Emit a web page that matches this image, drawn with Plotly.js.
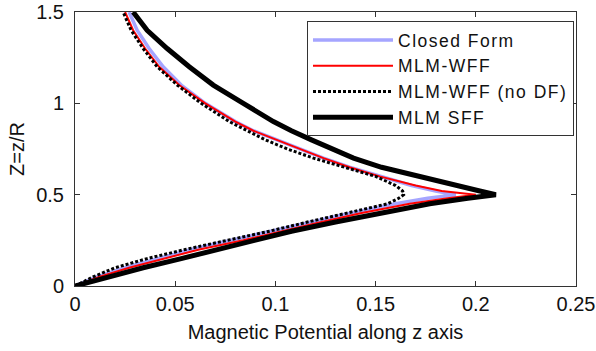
<!DOCTYPE html>
<html>
<head>
<meta charset="utf-8">
<script src="https://cdn.plot.ly/plotly-3.0.1.min.js"></script>
<style>
  html, body { margin: 0; padding: 0; background: #fff; }
  #chart { width: 596px; height: 351px; }
  .legendtext { letter-spacing: 1.5px; }
</style>
</head>
<body>
<div id="chart"></div>
<script>
// Z = z/R sample points (lower branch up to 0.5, then upper branch to 1.5)
const zValues = [0, 0.05, 0.1, 0.15, 0.2, 0.25, 0.3, 0.35, 0.4, 0.45, 0.48, 0.5,
                 0.52, 0.55, 0.6, 0.65, 0.7, 0.75, 0.8, 0.85, 0.9, 1.0, 1.1, 1.2, 1.3, 1.4, 1.5];

const closedForm = [0, 0.011, 0.025, 0.041, 0.058, 0.078, 0.098, 0.118, 0.138, 0.160, 0.176, 0.190,
                    0.180, 0.168, 0.152, 0.137, 0.124, 0.112, 0.100, 0.089, 0.080, 0.065, 0.053, 0.044, 0.037, 0.031, 0.027];

const mlmWff = [0, 0.012, 0.027, 0.044, 0.062, 0.084, 0.103, 0.123, 0.143, 0.167, 0.186, 0.200,
                0.183, 0.170, 0.152, 0.137, 0.124, 0.112, 0.100, 0.089, 0.080, 0.065, 0.052, 0.042, 0.035, 0.029, 0.025];

const mlmWffNoDF = [0, 0.009, 0.020, 0.036, 0.055, 0.076, 0.097, 0.116, 0.136, 0.156, 0.1615, 0.164,
                    0.1635, 0.160, 0.150, 0.134, 0.119, 0.106, 0.095, 0.086, 0.077, 0.063, 0.051, 0.041, 0.034, 0.028, 0.024];

const mlmSff = [0, 0.016, 0.034, 0.053, 0.071, 0.089, 0.108, 0.130, 0.153, 0.177, 0.196, 0.210,
                0.202, 0.191, 0.171, 0.153, 0.139, 0.128, 0.118, 0.108, 0.099, 0.084, 0.069, 0.057, 0.046, 0.036, 0.029];

const seriesNames = ['Closed Form', 'MLM-WFF', 'MLM-WFF (no DF)', 'MLM SFF'];
const xTicks = [0, 0.05, 0.1, 0.15, 0.2, 0.25];
const xTickText = ['0', '0.05', '0.1', '0.15', '0.2', '0.25'];
const yTicks = [0, 0.5, 1, 1.5];
const yTickText = ['0', '0.5', '1', '1.5'];

const FONT = 'Liberation Sans, Arial, Helvetica, sans-serif';

const traces = [
  { x: closedForm, y: zValues, name: seriesNames[0], mode: 'lines',
    line: { color: 'rgb(165,165,255)', width: 3.5 } },
  { x: mlmWff, y: zValues, name: seriesNames[1], mode: 'lines',
    line: { color: 'rgb(255,0,0)', width: 2 } },
  { x: mlmWffNoDF, y: zValues, name: seriesNames[2], mode: 'lines',
    line: { color: 'black', width: 3, dash: '3px,2px' } },
  { x: mlmSff, y: zValues, name: seriesNames[3], mode: 'lines',
    line: { color: 'black', width: 5 } }
];

const axisCommon = {
  showgrid: false, zeroline: false, showline: true, linecolor: '#333', linewidth: 1,
  mirror: 'ticks', ticks: 'inside', ticklen: 5, tickcolor: '#333', tickwidth: 1,
  ticklabeloverflow: 'allow',
  tickfont: { family: FONT, size: 20, color: '#111' }
};

const layout = {
  width: 596, height: 351,
  margin: { l: 75, r: 20, t: 12, b: 65 },
  paper_bgcolor: '#fff', plot_bgcolor: '#fff',
  font: { family: FONT, size: 20, color: '#111' },
  showlegend: true,
  legend: {
    x: 0.996, xanchor: 'right', y: 0.967, yanchor: 'top',
    bgcolor: '#fff', bordercolor: '#333', borderwidth: 1,
    font: { family: FONT, size: 17.5, color: '#111' },
    itemwidth: 80, tracegroupgap: 0
  },
  xaxis: Object.assign({}, axisCommon, {
    range: [0, 0.25], tickvals: xTicks, ticktext: xTickText,
    ticklabelstandoff: 0,
    title: { text: 'Magnetic Potential along z axis', font: { family: FONT, size: 20, color: '#111' }, standoff: 10 }
  }),
  yaxis: Object.assign({}, axisCommon, {
    range: [0, 1.5], tickvals: yTicks, ticktext: yTickText,
    ticklabelstandoff: 6,
    title: { text: 'Z=z/R', font: { family: FONT, size: 20, color: '#111' }, standoff: 6 }
  })
};

Plotly.newPlot('chart', traces, layout, { displayModeBar: false, staticPlot: true });
</script>
</body>
</html>
